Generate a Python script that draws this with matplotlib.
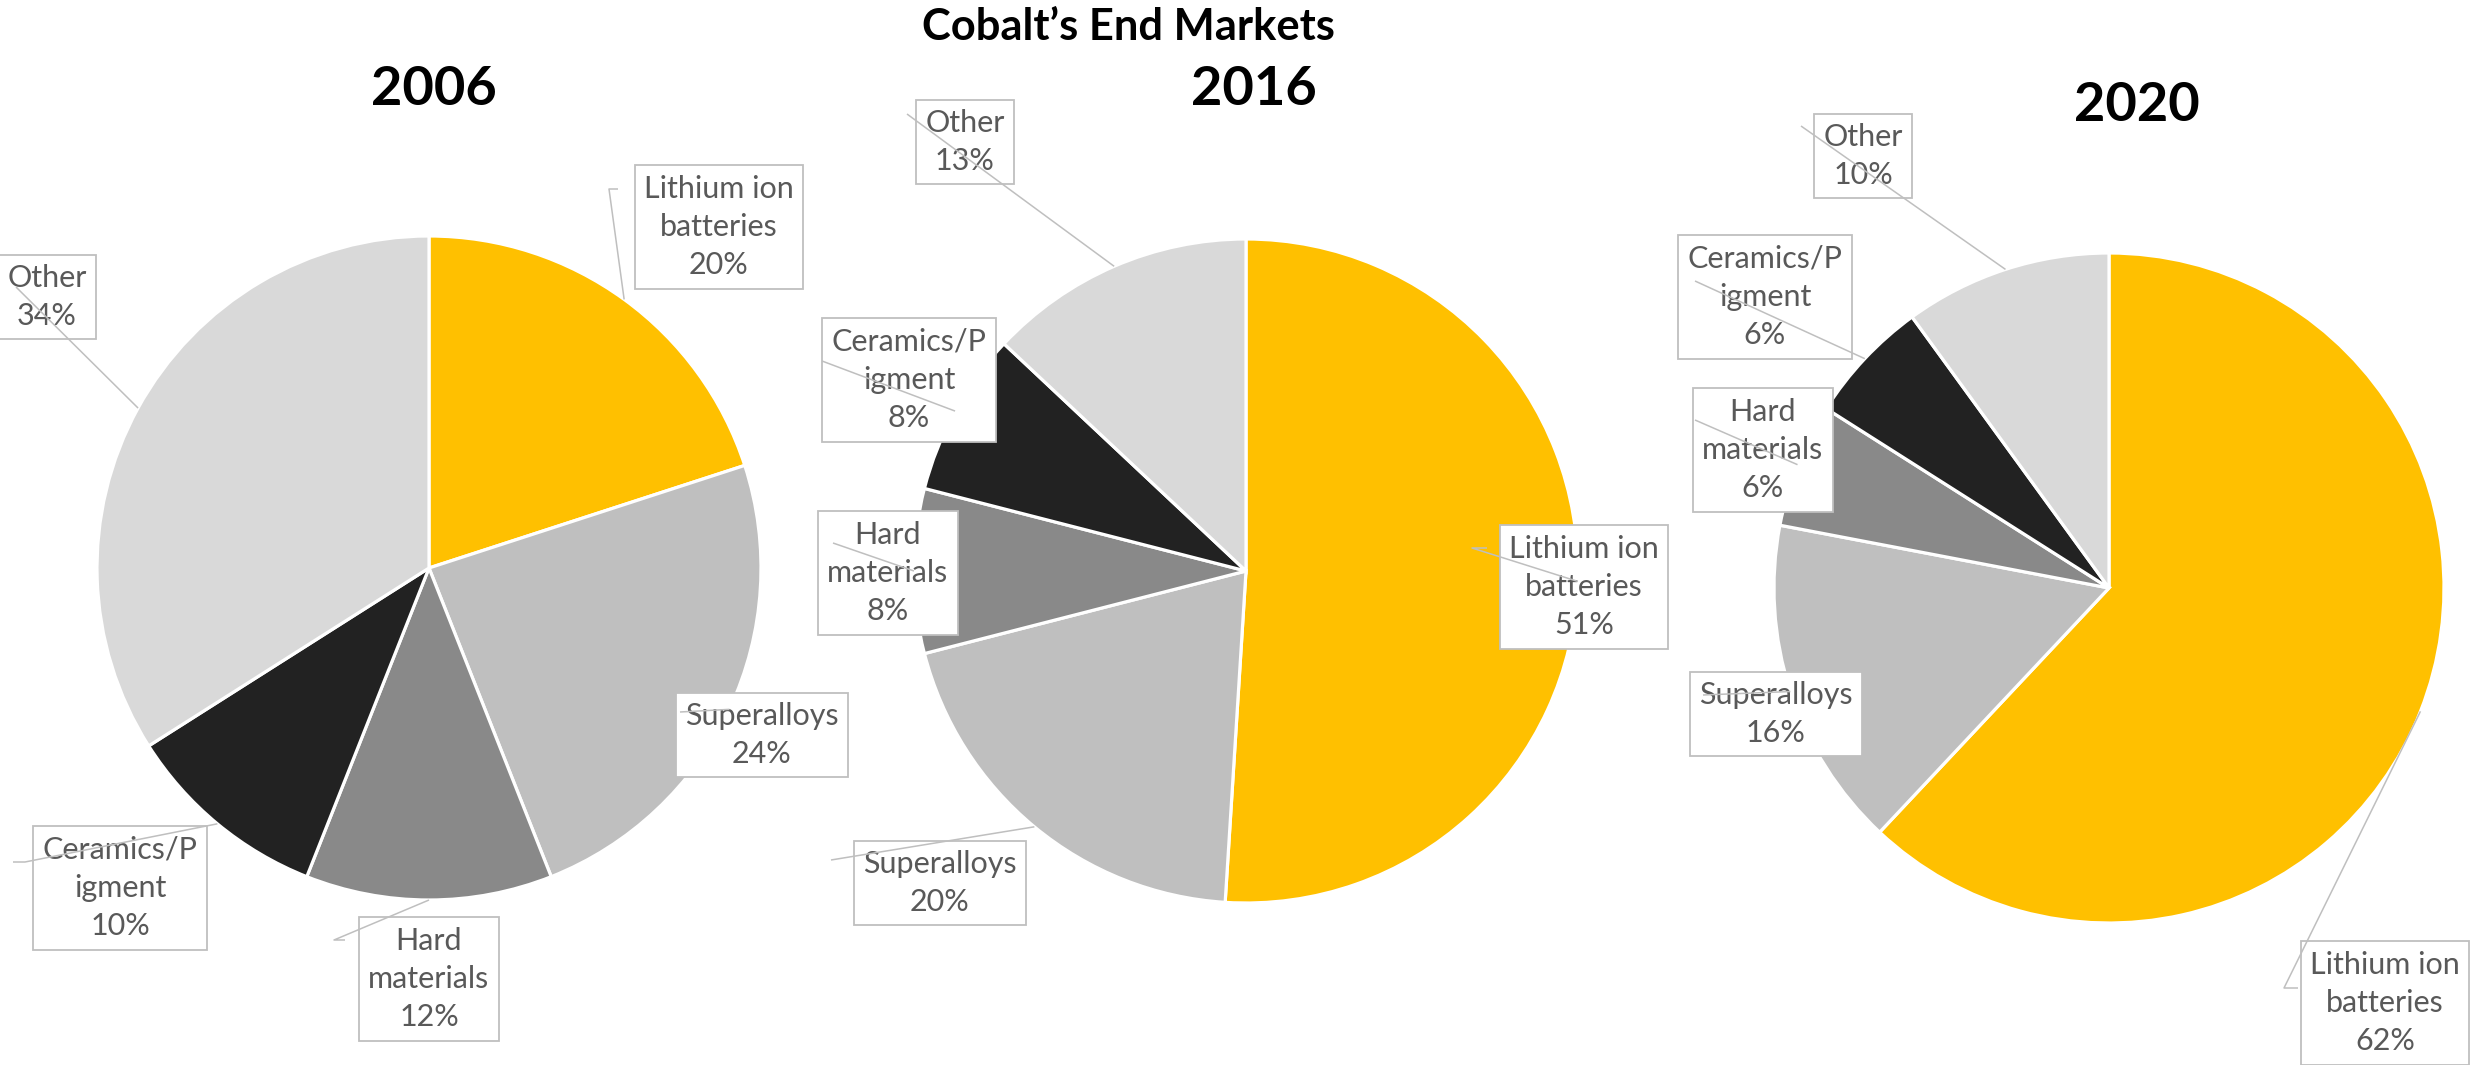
import matplotlib
matplotlib.use("Agg")
import matplotlib.pyplot as plt
import numpy as np

W, H, DPI = 2473, 1065, 100

# ---------------- data ----------------
title = "Cobalt\u2019s End Markets"
years = ["2006", "2016", "2020"]
categories = ["Lithium ion batteries", "Superalloys", "Hard materials",
              "Ceramics/Pigment", "Other"]
label_names = ["Lithium ion\nbatteries", "Superalloys", "Hard\nmaterials",
               "Ceramics/P\nigment", "Other"]
share_2006 = [20, 24, 12, 10, 34]
share_2016 = [51, 20, 8, 8, 13]
share_2020 = [62, 16, 6, 6, 10]
slice_colors = ["#FFC000", "#BFBFBF", "#898989", "#222222", "#D9D9D9"]

shares = [share_2006, share_2016, share_2020]

# ---------------- layout (image pixels, y downwards) ----------------
pie_centers = [(429, 568), (1246, 571), (2109, 588)]
pie_radii = [332, 332, 335]
year_pos = [(434, 105), (1254, 105), (2137, 121)]
title_pos = (1128, 40)
label_boxes = [
    [(719, 227), (762, 735), (429, 979), (120, 888), (47, 297)],
    [(1584, 587), (940, 883), (888, 573), (909, 380), (965, 142)],
    [(2385, 1003), (1776, 714), (1763, 450), (1765, 297), (1863, 156)],
]
leader_starts = [
    [[(618, 189), (609, 189)], [(680, 712)], [(345, 940), (334, 940)],
     [(13, 862), (25, 862)], [(16, 287)]],
    [[(1487, 548), (1472, 548)], [(831, 860)], [(833, 543)],
     [(822, 361)], [(907, 114)]],
    [[(2298, 988), (2284, 988)], [(1703, 695)], [(1695, 420)],
     [(1695, 281)], [(1801, 126)]],
]

FONT = ["Lato", "DejaVu Sans"]
plt.rcParams["font.family"] = FONT

fig = plt.figure(figsize=(W / DPI, H / DPI), dpi=DPI)
ax = fig.add_axes([0, 0, 1, 1])


def fit_size(text, target_px, **kw):
    t = fig.text(0, 0, text, fontsize=10, **kw)
    r = fig.canvas.get_renderer()
    w = t.get_window_extent(r).width
    t.remove()
    return 10 * target_px / w


title_fs = fit_size(title, 413, fontweight="bold")
year_fs = fit_size("2006", 127, fontweight="bold")
label_fs = fit_size("Lithium ion", 150)

for k, vals in enumerate(shares):
    cx, cy = pie_centers[k]
    r = pie_radii[k]
    wedges, _ = ax.pie(vals, colors=slice_colors, startangle=90,
                       counterclock=False, center=(cx, H - cy), radius=r,
                       frame=True,
                       wedgeprops=dict(edgecolor="white", linewidth=2.3))
    for w in wedges:
        w.set_zorder(1)
    # year title
    yx, yy = year_pos[k]
    ax.text(yx, H - yy, years[k], ha="center", va="baseline",
            fontsize=year_fs, fontweight="bold", color="black", zorder=5)
    # data labels
    for i, w in enumerate(wedges):
        mid = np.deg2rad((w.theta1 + w.theta2) / 2)
        ax_pt = (cx + r * np.cos(mid), H - cy + r * np.sin(mid))
        lx, ly = label_boxes[k][i]
        ax.text(lx, H - ly, f"{label_names[i]}\n{vals[i]}%", ha="center",
                va="center", multialignment="center", fontsize=label_fs,
                color="#595959", linespacing=1.45, zorder=3,
                bbox=dict(boxstyle="square,pad=0.3", facecolor="white",
                          edgecolor="#BFBFBF", linewidth=1.3))
        pts = [(x, H - y) for (x, y) in leader_starts[k][i]] + [ax_pt]
        xs, ys = zip(*pts)
        ax.plot(xs, ys, color="#BFBFBF", linewidth=1.1, zorder=4,
                solid_capstyle="butt")

ax.text(title_pos[0], H - title_pos[1], title, ha="center", va="baseline",
        fontsize=title_fs, fontweight="bold", color="black", zorder=5)

ax.set_xlim(0, W)
ax.set_ylim(0, H)
ax.set_aspect("equal", adjustable="box")
ax.axis("off")

fig.savefig("out.png", dpi=DPI, facecolor="white")
